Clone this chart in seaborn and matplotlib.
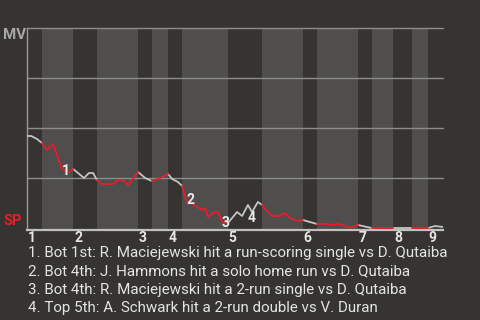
import numpy as np
import pandas as pd
import matplotlib
matplotlib.use("Agg")
import matplotlib.pyplot as plt
import seaborn as sns
from matplotlib.transforms import blended_transform_factory

# ---- data (game progress in % of game, MV win probability) ----
progress = [0, 1.0, 2.4, 3.6,
            4.8, 6.25, 8.4, 9.9, 11.1,
            13.7, 14.9, 15.9, 16.8,
            18.0, 20.7, 21.9, 23.1, 24.3, 26.7,
            28.4, 30.0,
            32.0, 33.9,
            34.9, 36.3, 37.3,
            38.2, 39.4, 40.9, 42.1, 42.8, 43.5, 45.0, 45.9, 46.9, 48.3,
            50.5, 51.7, 53.1, 54.1, 55.5, 56.5,
            57.9, 59.1, 60.8, 62.0, 63.2, 64.9, 66.3,
            68.0, 69.7,
            72.1, 73.3, 74.5, 76.0, 77.4, 78.8, 79.6,
            81.7, 82.9,
            88.0,
            89.7, 92.5,
            96.4,
            98.1, 100.0]
win_prob = [0.46, 0.46, 0.445, 0.425,
            0.39, 0.42, 0.295, 0.28, 0.295,
            0.25, 0.275, 0.275, 0.24,
            0.22, 0.22, 0.24, 0.24, 0.215, 0.28,
            0.25, 0.235,
            0.25, 0.27,
            0.245, 0.23, 0.21,
            0.14, 0.125, 0.105, 0.09, 0.10, 0.055, 0.08, 0.08, 0.03, 0.025,
            0.08, 0.06, 0.115, 0.08, 0.13, 0.115,
            0.08, 0.06, 0.06, 0.075, 0.05, 0.035, 0.04,
            0.03, 0.02,
            0.02, 0.015, 0.02, 0.015, 0.0025, 0.01, 0.015,
            0.005, 0.0,
            0.0,
            0.0, 0.0,
            0.0,
            0.01, 0.005]
half_start = [0, 3.6, 11.1, 16.8, 26.7, 30.0, 33.9, 37.3, 48.3,
              56.5, 66.3, 69.7, 79.6, 82.9, 88.0, 92.5, 96.4]
game_end = 100.0
teams = ["MV", "SP"]
inning_labels = ["1", "2", "3", "4", "5", "6", "7", "8", "9"]
event_labels = ["1", "2", "3", "4"]
event_label_x = [9.4, 39.4, 47.8, 54.1]
event_label_y = [0.285, 0.14, 0.025, 0.0525]
event_texts = [
    "1. Bot 1st: R. Maciejewski hit a run-scoring single vs D. Qutaiba",
    "2. Bot 4th: J. Hammons hit a solo home run vs D. Qutaiba",
    "3. Bot 4th: R. Maciejewski hit a 2-run single vs D. Qutaiba",
    "4. Top 5th: A. Schwark hit a 2-run double vs V. Duran",
]

BG = "#353431"
BAND = "#4f4e4c"
RED = "#e81c2c"
GREY = "#c4c4c4"

sns.set_theme(style="dark")
plt.rcParams["font.family"] = ["Roboto", "DejaVu Sans"]

W, H = 480, 320
fig = plt.figure(figsize=(4.8, 3.2), dpi=100, facecolor=BG)
ax = fig.add_axes([27 / W, 90 / H, 416 / W, 202 / H])
ax.set_facecolor(BG)

x = np.array(progress)
y = np.array(win_prob)
ends = half_start[1:] + [game_end]
rows = []
for i, (s, e) in enumerate(zip(half_start, ends)):
    m = (x >= s - 1e-9) & (x <= e + 1e-9)
    for xi, yi in zip(x[m], y[m]):
        rows.append({"progress": xi, "prob": yi, "half": i, "team": teams[i % 2]})
df = pd.DataFrame(rows)

for i, (s, e) in enumerate(zip(half_start, ends)):
    if i % 2 == 1:
        ax.axvspan(s, e, color=BAND, lw=0, zorder=0)

for g in [0.25, 0.5, 0.75, 1.0]:
    ax.axhline(g, color="#8c8c8a", lw=1.0, zorder=1, clip_on=False)

sns.lineplot(data=df, x="progress", y="prob", hue="team", units="half",
             estimator=None, palette={"MV": GREY, "SP": RED}, legend=False,
             lw=1.3, ax=ax, zorder=3)

ax.set_xlim(0, game_end)
ax.set_ylim(-0.01, 1.0)
ax.set_xticks([])
ax.set_yticks([])
ax.set_xlabel("")
ax.set_ylabel("")
ax.grid(False)
for sp in ["top", "right"]:
    ax.spines[sp].set_visible(False)
ax.spines["left"].set_color("#9a9a9a")
ax.spines["left"].set_linewidth(1.0)
ax.spines["bottom"].set_color("#c0c0c0")
ax.spines["bottom"].set_linewidth(1.6)

for lab, lx, ly in zip(event_labels, event_label_x, event_label_y):
    ax.text(lx, ly, lab, ha="center", va="center", fontsize=10,
            fontweight="bold", color="#ececec", zorder=5)

trans = blended_transform_factory(ax.transData, fig.transFigure)
for lab, s in zip(inning_labels, half_start[0::2]):
    ax.text(s + 0.2, 1 - 241.5 / H, lab, transform=trans, ha="left",
            va="baseline", fontsize=10, fontweight="bold", color="#e6e6e6")

fig.text(3 / W, 1 - 39.3 / H, "MV", ha="left", va="baseline", fontsize=10.8,
         fontweight="bold", color="#a8a8a8")
fig.text(3 / W, 1 - 225 / H, "SP", ha="left", va="baseline", fontsize=10.5,
         fontweight="bold", color=RED)

for k, t in enumerate(event_texts):
    fig.text(28 / W, 1 - (257.3 + 18.3 * k) / H, t, ha="left", va="baseline",
             fontsize=10.9, color="#e4e4e4")

fig.savefig("out.png", dpi=100, facecolor=BG)
